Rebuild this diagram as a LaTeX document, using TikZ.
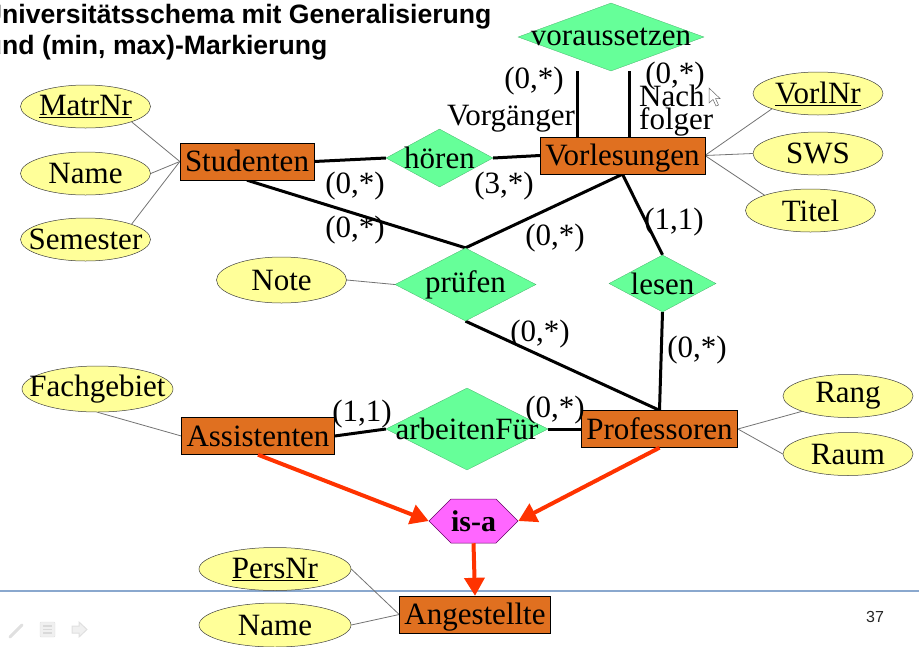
\documentclass[tikz,border=0pt]{standalone}
\usepackage{fontspec}
\setmainfont{Liberation Serif}
\newfontfamily\titlefont{Liberation Sans}
\usetikzlibrary{shapes.geometric,shapes.symbols,arrows.meta,backgrounds}

\definecolor{entorange}{HTML}{E07020}
\definecolor{relgreen}{HTML}{66FF99}
\definecolor{attryellow}{HTML}{FFFF99}
\definecolor{isapink}{HTML}{FF66FF}
\definecolor{isared}{HTML}{FF3300}
\definecolor{slideline}{HTML}{8AA8CE}

% text wider than its shape
\newcommand{\nb}[1]{\makebox[0pt]{#1}}

\tikzset{
  every node/.style={font=\fontsize{31}{36}\selectfont},
  entity/.style={draw, fill=entorange, minimum height=37pt, inner xsep=5pt, inner ysep=0pt,
    text height=24pt, text depth=4pt},
  rel/.style={diamond, draw=relgreen!70!black, line width=0.3pt, fill=relgreen, inner sep=0pt},
  attr/.style={ellipse, draw=black!75, line width=0.5pt, fill=attryellow, inner sep=0pt,
    minimum width=130pt, minimum height=43pt},
  isabox/.style={signal, signal to=west and east, draw=violet!80!black, line width=0.5pt,
    fill=isapink, minimum width=89pt, minimum height=44pt, inner sep=0pt,
    font=\fontsize{30}{36}\selectfont\bfseries},
  card/.style={inner sep=0pt},
  relline/.style={line width=3pt},
  attrline/.style={draw=black!55, line width=0.8pt},
  isaarrow/.style={draw=isared, line width=4pt, -{Triangle[length=18pt,width=20pt]}}
}

\begin{document}
\begin{tikzpicture}[x=1pt,y=-1pt]
	\useasboundingbox (0,0) rectangle (919,646);
	\clip (0,0) rectangle (919,646);

	% title
	\node[anchor=base west, inner sep=0pt, font=\titlefont\bfseries\fontsize{26.6}{30}\selectfont]
		(title1) at (2,23) {\llap{U}niversitätsschema mit Generalisierung};
	\node[anchor=base west, inner sep=0pt, font=\titlefont\bfseries\fontsize{26.6}{30}\selectfont]
		(title2) at (2,54) {\llap{u}nd (min, max)-Markierung};

	% entities
	\node[entity]  (Studenten) at   (247,161.5) {Studenten};
	\node[entity] (Vorlesungen) at (622.5,155.5) {Vorlesungen};
	\node[entity] (Assistenten) at   (258,436)   {Assistenten};
	\node[entity] (Professoren) at (659.5,429)   {Professoren};
	\node[entity] (Angestellte) at   (475,614.5) {Angestellte};

	% relationships
	\node[rel, minimum width=186pt, minimum height=68pt] (voraussetzen) at (611,37)    {\nb{voraussetzen}};
	\node[rel, minimum width=107pt, minimum height=58pt]        (hoeren) at (439.5,158) {\nb{hören}};
	\node[rel, minimum width=141pt, minimum height=73pt]       (pruefen) at (465.5,284.5) {\nb{prüfen}};
	\node[rel, minimum width=107pt, minimum height=57pt]         (lesen) at (662.5,283.5) {\nb{lesen}};
	\node[rel, minimum width=162pt, minimum height=82pt]   (arbeitenFuer) at (467,429)   {\nb{arbeitenFür}};
	\node[isabox] (isa) at (473.5,521) {is-a};

	% attributes
	\node[attr]        (MatrNr) at  (85.5,106.5) {\nb{\underline{MatrNr}}};
	\node[attr]     (StudName) at  (85.5,173.5) {\nb{Name}};
	\node[attr]      (Semester) at  (85.5,239.5) {\nb{Semester}};
	\node[attr]        (VorlNr) at   (818,93.5)  {\nb{\underline{VorlNr}}};
	\node[attr]           (SWS) at   (818,153.5) {\nb{SWS}};
	\node[attr]         (Titel) at (810.5,210.5) {\nb{Titel}};
	\node[attr, minimum height=46pt] (Note) at (281.5,280) {\nb{Note}};
	\node[attr, minimum width=151pt, minimum height=46pt] (Fachgebiet) at (97.5,389) {\nb{Fachgebiet}};
	\node[attr]          (Rang) at   (848,396)   {\nb{Rang}};
	\node[attr]          (Raum) at   (848,454)   {\nb{Raum}};
	\node[attr, minimum width=152pt] (PersNr) at (275,569) {\nb{\underline{PersNr}}};
	\node[attr, minimum width=152pt, minimum height=44pt] (AngName) at (275,625) {\nb{Name}};

	% cardinalities and roles
	\node[card] (c1) at (534,81)  {(0,*)};
	\node[card] (vorg) at (511,119) {Vorgänger};
	\node[card] (c2) at (675,76)  {(0,*)};
	\node[card, anchor=west, align=left, font=\fontsize{31}{22}\selectfont] (nachf) at (639,111) {Nach\\folger};
	\node[card] (c3) at (355,186) {(0,*)};
	\node[card] (c4) at (504,186) {(3,*)};
	\node[card] (c5) at (355,230) {(0,*)};
	\node[card] (c6) at (555,238) {(0,*)};
	\node[card] (c7) at (674,222) {(1,1)};
	\node[card] (c8) at (540,334) {(0,*)};
	\node[card] (c9) at (697,350) {(0,*)};
	\node[card] (c10) at (362,414) {(1,1)};
	\node[card] (c11) at (555,410) {(0,*)};

	% page number
	\node[font=\titlefont\fontsize{16}{19}\selectfont, text=black!85] (pagenum) at (875,617) {37};

	% connectors
	\begin{scope}[on background layer]
		\draw[slideline, line width=1.2pt] (0,591) -- (919,591);

		\draw[relline] (Studenten.east) -- (hoeren.west);
		\draw[relline] (hoeren.east) -- (Vorlesungen.west);
		\draw[relline] (Studenten.south) -- (pruefen.north);
		\draw[relline] (Vorlesungen.south) -- (pruefen.north);
		\draw[relline] (Vorlesungen.south) -- (lesen.north);
		\draw[relline] (pruefen.south) -- (Professoren.north);
		\draw[relline] (lesen.south) -- (Professoren.north);
		\draw[relline] (Assistenten.east) -- (arbeitenFuer.west);
		\draw[relline] (arbeitenFuer.east) -- (Professoren.west);
		\draw[relline] ([xshift=-45pt]Vorlesungen.north) -- ([xshift=-45pt]Vorlesungen.north |- voraussetzen.south);
		\draw[relline] ([xshift=7pt]Vorlesungen.north) -- ([xshift=7pt]Vorlesungen.north |- voraussetzen.south);

		\draw[attrline] (MatrNr.south east) -- (Studenten.west);
		\draw[attrline] (StudName.east) -- (Studenten.west);
		\draw[attrline] (Semester.north east) -- (Studenten.west);
		\draw[attrline] (VorlNr.south west) -- (Vorlesungen.east);
		\draw[attrline] (SWS.west) -- (Vorlesungen.east);
		\draw[attrline] (Titel.north west) -- (Vorlesungen.east);
		\draw[attrline] (Note.east) -- (pruefen.west);
		\draw[attrline] (Fachgebiet.south) -- (Assistenten.west);
		\draw[attrline] (Rang.south west) -- (Professoren.east);
		\draw[attrline] (Raum.west) -- (Professoren.east);
		\draw[attrline] (PersNr.east) -- (Angestellte.west);
		\draw[attrline] (AngName.east) -- (Angestellte.west);
	\end{scope}

	% generalisation
	\draw[isaarrow] (Assistenten.south) -- (isa.west);
	\draw[isaarrow] (Professoren.south) -- (isa.east);
	\draw[isaarrow] (isa.south) -- (Angestellte.north);

	% mouse pointer
	\draw[black!60, fill=white, line width=0.5pt] (709,88) -- (709,103) -- (713,99.5) -- (716,106)
		-- (718.5,105) -- (715.5,98.5) -- (720,98.5) -- cycle;

	% slide toolbar
	\draw[black!12, line width=3pt, line cap=round] (10,637) -- (22,625);
	\draw[black!12, fill=black!6, rounded corners=1pt] (40,622) rectangle (55,637);
	\foreach \yy in {626,629.5,633}
		\draw[black!15, line width=1.2pt] (43,\yy) -- (52,\yy);
	\draw[black!12, fill=black!6, line width=1pt] (72,626) -- (79,626) -- (79,622) -- (87,629.5)
		-- (79,637) -- (79,633) -- (72,633) -- cycle;
\end{tikzpicture}
\end{document}
